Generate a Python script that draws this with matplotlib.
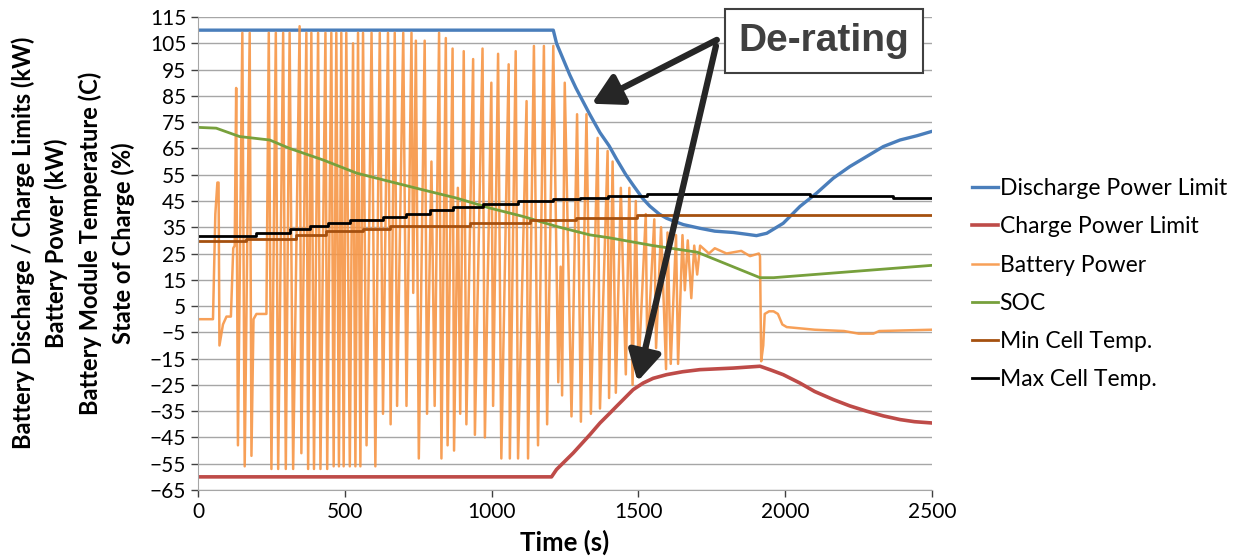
import matplotlib.pyplot as plt

# Discharge / charge power limits (kW)
discharge_t = [0, 1210, 1221, 1266, 1287, 1334, 1369, 1400, 1425, 1457, 1482, 1514, 1539, 1571,
               1596, 1628, 1653, 1709, 1760, 1823, 1870, 1902, 1937, 1993, 2050, 2107, 2164,
               2220, 2277, 2334, 2391, 2448, 2500]
discharge_kw = [110, 110, 105, 93, 88, 78, 71, 66, 61, 55, 51, 46, 43, 40,
                38.4, 37, 36, 34.6, 33.5, 33, 32.3, 31.8, 32.7, 36.5, 42.9, 48, 53.7,
                58.1, 61.9, 65.7, 68.2, 69.8, 71.5]

charge_t = [0, 1204, 1221, 1278, 1335, 1369, 1403, 1425, 1482, 1516, 1550, 1596, 1650, 1709,
            1823, 1914, 1950, 1993, 2050, 2100, 2164, 2220, 2277, 2334, 2391, 2440, 2500]
charge_kw = [-60, -60, -57.2, -50.9, -43.9, -39.5, -35.7, -33.2, -26.8, -24.3, -22.5, -21.1, -20, -19.2,
             -18.6, -17.9, -19.3, -21.1, -24.3, -27.5, -30.6, -33, -35, -36.8, -38.2, -39, -39.5]

# Battery power turning points (s, kW)
power_t = [0, 51, 59, 66, 70, 73, 85, 97, 112, 120, 125,
           130, 136, 151, 159, 176, 182, 189, 199, 233,
           241, 250, 265, 273, 290, 299, 312, 324, 346, 352,
           369, 375, 386, 395, 409, 417, 434, 440, 454, 462,
           471, 480, 488, 496, 505, 517, 528, 536, 545, 553,
           562, 574, 591, 604, 619, 630, 647, 656, 670, 678,
           699, 710, 727, 733, 742, 752, 772, 780, 795, 806,
           821, 829, 844, 850, 867, 872, 885, 893, 905, 914,
           937, 943, 969, 977, 999, 1005, 1022, 1033, 1058, 1062,
           1082, 1090, 1119, 1124, 1144, 1158, 1178, 1189, 1210, 1227,
           1235, 1240, 1249, 1272, 1291, 1304, 1323, 1338, 1361, 1369,
           1395, 1400, 1412, 1423, 1440, 1457, 1469, 1480, 1491, 1500,
           1525, 1530, 1554, 1560, 1577, 1594, 1599, 1610, 1628, 1635,
           1650, 1658, 1668, 1680, 1690, 1700, 1710, 1740, 1760, 1800,
           1850, 1880, 1910, 1914, 1918, 1925, 1930, 1945, 1960, 1975,
           1990, 2005, 2100, 2200, 2250, 2300, 2320, 2500]
power_kw = [0, 0, 40, 52, 52, -10, -2, 1, 1, 27, 28,
            88, -48, 109, -56, 109, -52, 0, 2, 2,
            109, -57, 109, -57, 109, -57, 109, -57, 111.5, -51,
            109, -57, 109, -57, 109, -57, 109, -57, 109, -56,
            109, -56, 109, -56, 109, -56, 105, -56, 109, -56,
            109, -48, 109, -56, 109, -36, 109, -40, 109, -33,
            109, -33, 109, 10, 106, -53, 106, -36, 60, -33,
            109, -53, 107, -48, 103, -50, 50, -36, 102, -40,
            99, -44, 103, -45, 90, -33, 101, -53, 97, -53,
            102, -53, 83, -53, 104, -48, 104, -40, 104, -24,
            20, -29, 90, -37, 78, -39, 78, -36, 69, -34,
            64, -30, 60, -28, 50, -21, 50, -25, 45, -20,
            40, -14, 38, -11, 35, -19, 33, -17, 32, -17,
            32, 11, 30, 8, 28, 17, 28, 25, 27, 25,
            26, 24, 25, 24, -16, -10, 2, 3, 3, 2,
            -2, -3, -4, -4.5, -5.5, -5.5, -4.5, -4]

# State of charge (%)
soc_t = [0, 62, 142, 244, 312, 426, 540, 653, 767, 880, 994, 1107, 1221, 1334,
         1400, 1550, 1700, 1914, 1960, 2500]
soc_pct = [73, 72.7, 69.5, 68.2, 65, 60.6, 55.6, 52.4, 49.2, 46.1, 42.3, 39.1, 35.3, 32.1,
           31, 28, 25.5, 15.8, 15.8, 20.5]

# Cell temperatures (C), step start times
tmin_t = [0, 165, 335, 437, 562, 653, 926, 1130, 1289, 1494, 2500]
tmin_c = [29.6, 30.5, 32.1, 33.4, 34.3, 35.3, 36.6, 37.6, 38.5, 39.7, 39.7]
tmax_t = [0, 199, 312, 380, 443, 517, 630, 710, 789, 869, 971, 1090, 1210, 1300,
          1395, 1528, 2084, 2368, 2500]
tmax_c = [31.7, 32.7, 34.3, 35.3, 36.5, 37.8, 38.8, 40.1, 41.4, 42.6, 43.9, 44.8, 45.7, 46.3,
          46.8, 47.7, 47.0, 46.0, 46.0]

yticks = list(range(-65, 116, 10))
xticks = [0, 500, 1000, 1500, 2000, 2500]

plt.rcParams['font.family'] = ['Lato', 'DejaVu Sans']

fig = plt.figure(figsize=(12.36, 5.56), dpi=100)
ax = fig.add_axes([0.1602, 0.1187, 0.5939, 0.8507])

ax.plot(discharge_t, discharge_kw, color='#4A7EBB', lw=2.4, label='Discharge Power Limit')
ax.plot(charge_t, charge_kw, color='#BE4B48', lw=2.6, label='Charge Power Limit')
ax.plot(power_t, power_kw, color='#F79646', lw=1.8, alpha=0.9, label='Battery Power')
ax.plot(soc_t, soc_pct, color='#77A03C', lw=2.0, label='SOC')
ax.plot(tmin_t, tmin_c, color='#A5500F', lw=2.0, drawstyle='steps-post', label='Min Cell Temp.')
ax.plot(tmax_t, tmax_c, color='black', lw=2.0, drawstyle='steps-post', label='Max Cell Temp.')

ax.set_xlim(0, 2500)
ax.set_ylim(-65, 115)
ax.set_xticks(xticks)
ax.set_yticks(yticks)
ax.tick_params(labelsize=15, colors='#404040', length=5, width=1, labelcolor='black')
ax.grid(axis='y', color='#A6A6A6', lw=1)
ax.set_axisbelow(True)
for s in ['top', 'right']:
    ax.spines[s].set_visible(False)
for s in ['left', 'bottom']:
    ax.spines[s].set_color('#A6A6A6')

ax.set_xlabel('Time (s)', fontsize=18.5, fontweight='bold', labelpad=6)
ax.set_ylabel('Battery Discharge / Charge Limits (kW)\nBattery Power (kW)\n'
              'Battery Module Temperature (C)\nState of Charge (%)',
              fontsize=17, fontweight='bold', labelpad=10.5, linespacing=1.5)
ax.yaxis.label.set_y(0.522)

ax.legend(loc='center left', bbox_to_anchor=(1.026, 0.435), frameon=False, fontsize=16.5,
          handlelength=1.13, handletextpad=0.08, labelspacing=0.75)

# De-rating callout
arrow = dict(arrowstyle='-|>,head_length=0.9,head_width=0.5', color='#262626',
             lw=4.5, mutation_scale=20, shrinkA=0, shrinkB=0)
ax.annotate('', xy=(1341, 82), xytext=(1767, 106.3), arrowprops=arrow, zorder=5)
ax.annotate('', xy=(1497, -23.7), xytext=(1764, 104), arrowprops=arrow, zorder=5)
ax.text(2132, 105.7, 'De-rating', fontsize=28, fontweight='bold', color='#404040',
        family='Liberation Sans', ha='center', va='center', zorder=6,
        bbox=dict(boxstyle='square,pad=0.36', fc='white', ec='#404040', lw=1.5))

fig.savefig('out.png', dpi=100)
